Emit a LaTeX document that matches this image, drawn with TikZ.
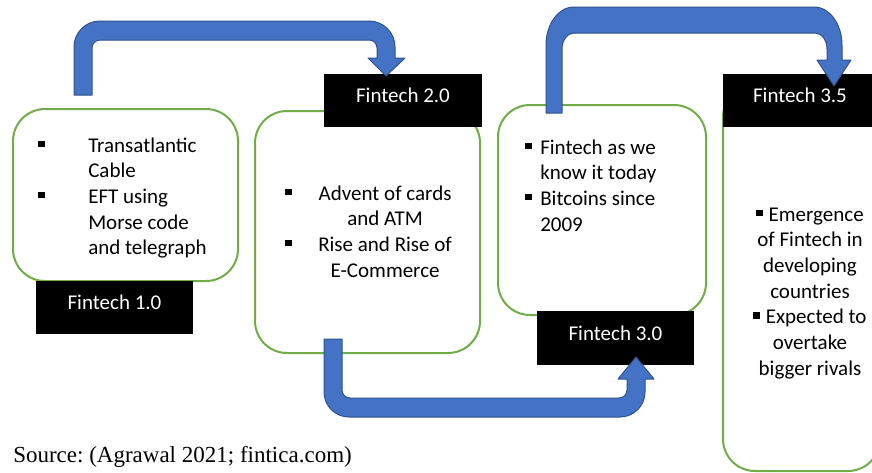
\documentclass[tikz,border=0pt]{standalone}
\usepackage{fontspec}
\setmainfont{Carlito}
\newfontfamily\srcfont{Liberation Serif}
\definecolor{gr}{HTML}{70AD47}
\definecolor{bl}{HTML}{4472C4}
\definecolor{bd}{HTML}{2F528F}
\newcommand\bul{\rule[3.7pt]{4.8pt}{4.8pt}}
\newcommand\fs{\fontsize{15.75pt}{19.25pt}\selectfont}
\frenchspacing
\begin{document}
\begin{tikzpicture}[x=0.75pt,y=-0.75pt,
  gbox/.style={draw=gr, line width=1.5pt, rounded corners=24pt, fill=white, inner sep=0},
  lbl/.style={fill=black, text=white, inner sep=0, font=\fs, text height=10.1pt, text depth=6.7pt, minimum height=39.75pt},
  txt/.style={inner sep=0, font=\fs},
  barrow/.style={fill=bl, draw=bd, line width=0.75pt, line join=round}]
\clip (0,0) rectangle (872,472);
\fill[white] (0,0) rectangle (872,472);
% green boxes
\node[gbox, minimum width=168.75pt, minimum height=129pt] (b1) at (125.5,195) {};
\node[gbox, minimum width=168.75pt, minimum height=181.5pt] (b2) at (367.5,232) {};
\node[gbox, minimum width=156pt, minimum height=157.5pt] (b3) at (602,210) {};
\node[gbox, minimum width=117.75pt, minimum height=289.5pt] (b4) at (801.5,278) {};
% labels
\node[lbl, minimum width=117.75pt] (l1) at (114.5,307.5) {Fintech 1.0};
\node[lbl, minimum width=118.5pt] (l2) at (403,100.5) {Fintech 2.0};
\node[lbl, minimum width=117.75pt, minimum height=40.5pt] (l3) at (615.5,338) {Fintech 3.0};
\node[lbl, minimum width=115.5pt] (l4) at (800,100.5) {Fintech 3.5};
% texts
\node[txt, anchor=base west] (t1) at (38,152) {\begin{tabular}[t]{@{}l@{}l@{}}\makebox[37.5pt][l]{\bul} & Transatlantic\\ & Cable\\ \makebox[37.5pt][l]{\bul} & EFT using\\ & Morse code\\ & and telegraph\end{tabular}};
\node[txt, anchor=base west] (t2) at (285,200) {\begin{tabular}[t]{@{}l@{}c@{}}\makebox[24.75pt][l]{\bul} & Advent of cards\\ & and ATM\\ \makebox[24.75pt][l]{\bul} & Rise and Rise of\\ & E-Commerce\end{tabular}};
\node[txt, anchor=base west] (t3) at (525,154) {\begin{tabular}[t]{@{}l@{}l@{}}\makebox[11.25pt][l]{\bul} & Fintech as we\\ & know it today\\ \makebox[11.25pt][l]{\bul} & Bitcoins since\\ & 2009\end{tabular}};
\node[txt, anchor=base] (t4) at (810,221) {\begin{tabular}[t]{@{}c@{}}\bul\hspace{4.5pt}Emergence\\ of Fintech in\\ developing\\ countries\\ \bul\hspace{4.5pt}Expected to\\ overtake\\ bigger rivals\end{tabular}};
\node[inner sep=0, anchor=base west, font=\srcfont\fontsize{17.25pt}{20pt}\selectfont] (src) at (13,462) {Source: (Agrawal 2021; fintica.com)};
% arrows
\draw[barrow] (74,95) -- (74,47) arc[start angle=180,end angle=270,radius=26] -- (369,21)
  arc[start angle=270,end angle=360,radius=26] -- (395,58) -- (405,58) -- (386,76) -- (368,58) -- (377,58) -- (377,48)
  arc[start angle=360,end angle=270,radius=8] -- (100,40)
  arc[start angle=270,end angle=180,radius=8] -- (92,95) -- cycle;
\draw[barrow] (324,339) -- (324,392) arc[start angle=180,end angle=90,radius=25] -- (620,417)
  arc[start angle=90,end angle=0,radius=25] -- (645,379) -- (654,379) -- (636,357) -- (618,379) -- (627,379) -- (627,390)
  arc[start angle=0,end angle=90,radius=8] -- (350,398)
  arc[start angle=90,end angle=180,radius=8] -- (342,339) -- cycle;
\draw[barrow] (546,113) -- (546,45) arc[start angle=180,end angle=270,x radius=28,y radius=38] -- (814,7)
  arc[start angle=270,end angle=360,x radius=28,y radius=38] -- (842,60) -- (851,60) -- (834,86) -- (817,60) -- (827,60) -- (827,49)
  arc[start angle=360,end angle=270,x radius=12,y radius=16] -- (574,33)
  arc[start angle=270,end angle=180,x radius=12,y radius=16] -- (562,113) -- cycle;
\end{tikzpicture}
\end{document}
